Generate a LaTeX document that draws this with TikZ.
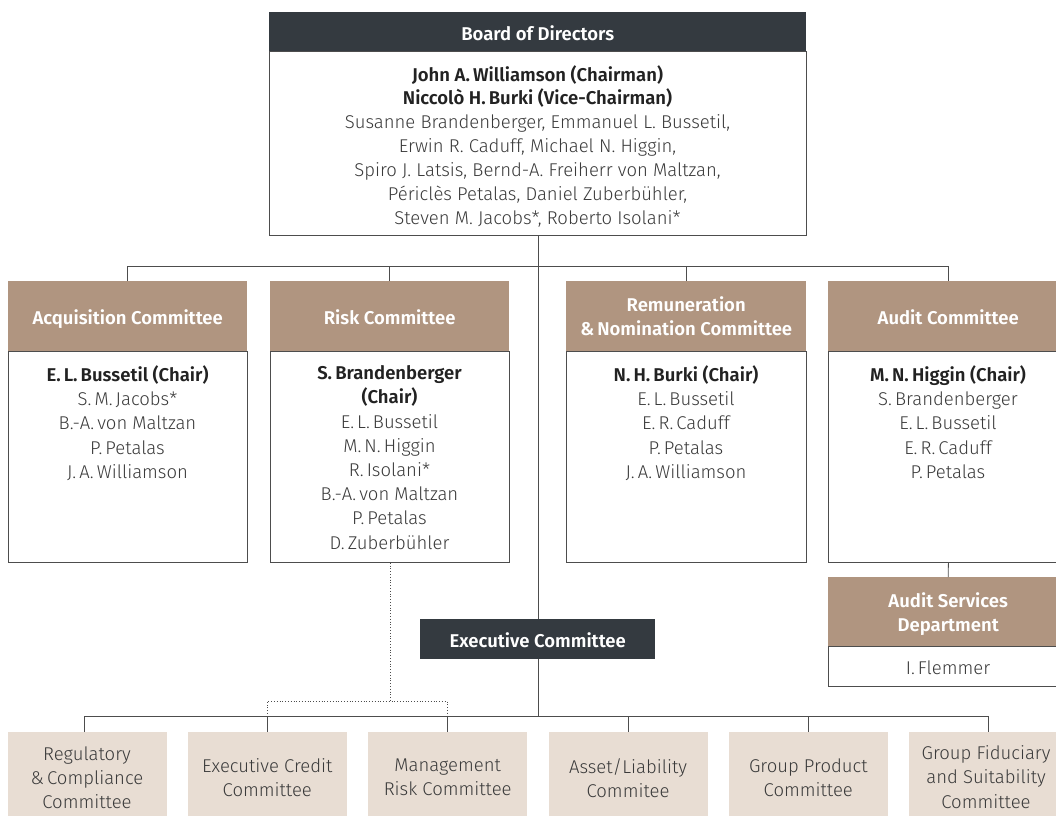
\documentclass[tikz,border=0pt]{standalone}
\usepackage{fontspec}
\setmainfont{Fira Sans Light}[BoldFont={Fira Sans SemiBold}]
\definecolor{dark}{HTML}{343A40}
\definecolor{tanc}{HTML}{B09580}
\definecolor{beige}{HTML}{E8DDD3}
\definecolor{txt}{HTML}{3A3A3A}
\definecolor{boldtxt}{HTML}{222222}
\definecolor{linec}{HTML}{4D4D4D}
\begin{document}
\begin{tikzpicture}[x=1pt,y=-1pt,
  box/.style={draw=linec, line width=0.8pt, fill=white, inner sep=0pt, anchor=north west},
  head/.style={fill=tanc, inner sep=0pt, anchor=north west},
  darkbox/.style={fill=dark, inner sep=0pt, anchor=north west},
  subbox/.style={fill=beige, inner sep=0pt, anchor=north west, minimum width=159pt, minimum height=100pt},
  tx/.style={inner sep=0pt, align=center, text=txt, font=\fontsize{18.5}{24.2}\selectfont,
    execute at begin node=\strut, execute at end node=\strut},
  htx/.style={inner sep=0pt, align=center, text=white, font=\fontsize{18.5}{24}\selectfont\bfseries,
    execute at begin node=\strut, execute at end node=\strut, yshift=-3.5pt},
  conn/.style={draw=linec, line width=0.8pt},
  dotconn/.style={conn, dotted}
]
\useasboundingbox (0,0) rectangle (1056,815);
\clip (0,0) rectangle (1056,815);

% coordinates for buses
\coordinate (bus1) at (538,266);
\coordinate (bus2) at (538,716.5);
\coordinate (dotl) at (538,701);

% ---- Board ----
\node[darkbox, minimum width=537pt, minimum height=39pt] (bodH) at (269,12) {};
\node[box, minimum width=537pt, minimum height=184pt] (bodB) at (269,51) {};
\node[htx] (bodHT) at (bodH.center) {Board of Directors};
\node[tx, anchor=north, font=\fontsize{18.5}{23.9}\selectfont] (bodT) at (537.5,65) {\textcolor{boldtxt}{\bfseries John A.\,Williamson (Chairman)}\\
  \textcolor{boldtxt}{\bfseries Niccolò H.\,Burki (Vice-Chairman)}\\
  Susanne Brandenberger, Emmanuel L. Bussetil,\\
  Erwin R. Caduff, Michael N. Higgin,\\
  Spiro J. Latsis, Bernd-A. Freiherr von Maltzan,\\
  Périclès Petalas, Daniel Zuberbühler,\\
  Steven M. Jacobs*, Roberto Isolani*};

% ---- committee boxes ----
\node[head, minimum width=239pt, minimum height=70pt] (acqH) at (8,281) {};
\node[box, minimum width=239pt, minimum height=211pt] (acqB) at (8,351) {};
\node[head, minimum width=239pt, minimum height=70pt] (riskH) at (270,281) {};
\node[box, minimum width=239pt, minimum height=211pt] (riskB) at (270,351) {};
\node[head, minimum width=240pt, minimum height=70pt] (remH) at (566,281) {};
\node[box, minimum width=240pt, minimum height=211pt] (remB) at (566,351) {};
\node[head, minimum width=240pt, minimum height=70pt] (audH) at (828,281) {};
\node[box, minimum width=240pt, minimum height=211pt] (audB) at (828,351) {};

\node[htx] (acqHT) at (acqH.center) {Acquisition Committee};
\node[htx] (riskHT) at (riskH.center) {Risk Committee};
\node[htx] (remHT) at (remH.center) {Remuneration\\ \&\,Nomination Committee};
\node[htx] (audHT) at (audH.center) {Audit Committee};

\node[tx, anchor=north] (acqT) at (127.5,365.5) {\textcolor{boldtxt}{\bfseries E.\,L.\,Bussetil (Chair)}\\
  S.\,M.\,Jacobs*\\ B.-A.\,von Maltzan\\ P.\,Petalas\\ J.\,A.\,Williamson};
\node[tx, anchor=north] (riskT) at (389.5,365.5) {\textcolor{boldtxt}{\bfseries S.\,Brandenberger}\\
  \textcolor{boldtxt}{\bfseries (Chair)}\\ E.\,L.\,Bussetil\\ M.\,N.\,Higgin\\ R.\,Isolani*\\
  B.-A.\,von Maltzan\\ P.\,Petalas\\ D.\,Zuberbühler};
\node[tx, anchor=north] (remT) at (686,365.5) {\textcolor{boldtxt}{\bfseries N.\,H.\,Burki (Chair)}\\
  E.\,L.\,Bussetil\\ E.\,R.\,Caduff\\ P.\,Petalas\\ J.\,A.\,Williamson};
\node[tx, anchor=north] (audT) at (948,365.5) {\textcolor{boldtxt}{\bfseries M.\,N.\,Higgin (Chair)}\\
  S.\,Brandenberger\\ E.\,L.\,Bussetil\\ E.\,R.\,Caduff\\ P.\,Petalas};

% ---- audit services ----
\node[head, minimum width=240pt, minimum height=69pt] (asdH) at (828,577) {};
\node[box, minimum width=240pt, minimum height=40pt] (asdB) at (828,646) {};
\node[htx] (asdHT) at (asdH.center) {Audit Services\\ Department};
\node[tx, anchor=north] (asdT) at (948,657) {I.\,Flemmer};

% ---- bottom committees ----
\node[subbox] (reg) at (7.5,732) {};
\node[subbox] (ecc) at (187.8,732) {};
\node[subbox] (mrc) at (368.2,732) {};
\node[subbox] (alc) at (548.5,732) {};
\node[subbox] (gpc) at (728.8,732) {};
\node[subbox] (gfc) at (909,732) {};

\node[tx, anchor=north] (regT) at (87,746.5) {Regulatory\\ \&\,Compliance\\ Committee};
\node[tx, anchor=north] (eccT) at (267.3,758.5) {Executive Credit\\ Committee};
\node[tx, anchor=north] (mrcT) at (447.7,758.5) {Management\\ Risk Committee};
\node[tx, anchor=north] (alcT) at (628,758.5) {Asset/Liability\\ Commitee};
\node[tx, anchor=north] (gpcT) at (808.3,758.5) {Group Product\\ Committee};
\node[tx, anchor=north] (gfcT) at (986,745.5) {Group Fiduciary\\ and Suitability\\ Committee};

% drop points for bottom bus
\coordinate (regD) at (84,732);
\coordinate (eccD) at (267,732);
\coordinate (mrcD) at (447,732);
\coordinate (alcD) at (628,732);
\coordinate (gpcD) at (808,732);
\coordinate (gfcD) at (988,732);

% ---- connectors ----
\draw[conn] (bodB.south) -- (bodB.south |- bus2);
\draw[conn] (acqH.north) -- (acqH.north |- bus1) -- (audH.north |- bus1) -- (audH.north);
\draw[conn] (riskH.north) -- (riskH.north |- bus1);
\draw[conn] (remH.north) -- (remH.north |- bus1);
\draw[conn] (audB.south) -- (asdH.north);

\draw[conn] (regD) -- (regD |- bus2) -- (gfcD |- bus2) -- (gfcD);
\draw[conn] (eccD) -- (eccD |- bus2);
\draw[conn] (mrcD) -- (mrcD |- bus2);
\draw[conn] (alcD) -- (alcD |- bus2);
\draw[conn] (gpcD) -- (gpcD |- bus2);

\draw[dotconn] (riskB.south) -- (riskB.south |- dotl);
\draw[dotconn] (eccD |- bus2) -- (eccD |- dotl) -- (mrcD |- dotl) -- (mrcD |- bus2);

% ---- executive committee ----
\node[darkbox, minimum width=235pt, minimum height=40pt] (exec) at (420,619) {};
\node[htx] (execT) at (exec.center) {Executive Committee};
\end{tikzpicture}
\end{document}
